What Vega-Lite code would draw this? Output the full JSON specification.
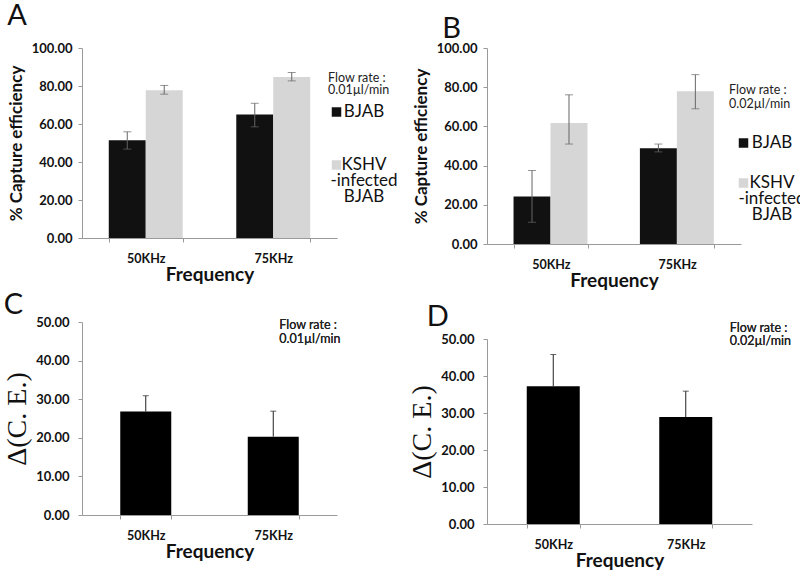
{
  "$schema": "https://vega.github.io/schema/vega-lite/v6.json",
  "background": "white",
  "padding": {"left": 3, "top": 2, "right": 0, "bottom": 0},
  "datasets": {
    "ce": [
      {"panel": "A", "freq": "50KHz", "cell": "BJAB", "mean": 51.5, "lo": 46.8, "hi": 55.9},
      {"panel": "A", "freq": "50KHz", "cell": "KSHV", "mean": 77.8, "lo": 75.7, "hi": 80.3},
      {"panel": "A", "freq": "75KHz", "cell": "BJAB", "mean": 65.0, "lo": 58.5, "hi": 70.9},
      {"panel": "A", "freq": "75KHz", "cell": "KSHV", "mean": 84.8, "lo": 82.7, "hi": 87.1},
      {"panel": "B", "freq": "50KHz", "cell": "BJAB", "mean": 24.2, "lo": 11.1, "hi": 37.5},
      {"panel": "B", "freq": "50KHz", "cell": "KSHV", "mean": 61.7, "lo": 51.0, "hi": 76.1},
      {"panel": "B", "freq": "75KHz", "cell": "BJAB", "mean": 48.9, "lo": 47.0, "hi": 51.0},
      {"panel": "B", "freq": "75KHz", "cell": "KSHV", "mean": 77.9, "lo": 69.0, "hi": 86.4}
    ],
    "delta": [
      {"panel": "C", "freq": "50KHz", "mean": 26.8, "hi": 30.9},
      {"panel": "C", "freq": "75KHz", "mean": 20.3, "hi": 26.9},
      {"panel": "D", "freq": "50KHz", "mean": 37.2, "hi": 45.8},
      {"panel": "D", "freq": "75KHz", "mean": 28.9, "hi": 35.9}
    ]
  },
  "config": {
    "font": "Lato",
    "view": {"stroke": null},
    "style": {"guide-label": {"lineHeight": 16}},
    "title": {"font": "Lato", "fontWeight": "normal", "fontSize": 29, "color": "#111", "anchor": "start"},
    "axisY": {
      "domainColor": "#9a9a9a", "tickColor": "#9a9a9a", "tickSize": 4, "grid": false, "labelOverlap": false,
      "labelFont": "Lato", "labelFontWeight": "bold", "labelFontSize": 13, "labelColor": "#111", "labelPadding": 6,
      "titleFont": "Lato", "titleFontWeight": "bold", "titleFontSize": 17, "titleColor": "#111", "titlePadding": 6,
      "format": ".2f"
    },
    "axisX": {
      "domainColor": "#9a9a9a", "tickColor": "#9a9a9a", "tickSize": 4, "tickBand": "extent", "labelAngle": 0,
      "labelFont": "Lato", "labelFontWeight": "bold", "labelFontSize": 12.5, "labelColor": "#111", "labelPadding": 10,
      "titleFont": "Lato", "titleFontWeight": "bold", "titleFontSize": 19, "titleColor": "#111", "titlePadding": 1
    },
    "legend": {
      "titleFont": "Lato", "titleFontWeight": "normal", "titleFontSize": 12.5, "titleColor": "#222",
      "labelFont": "Lato", "labelFontSize": 17, "labelColor": "#111", "labelLimit": 200, "labelAlign": "center",
      "symbolType": "square", "symbolSize": 90, "symbolStrokeWidth": 0, "labelBaseline": "middle"
    }
  },
  "resolve": {"scale": {"color": "independent"}, "legend": {"color": "independent"}},
  "hconcat": [
    {
      "align": "none",
      "vconcat": [
        {
          "width": 255, "height": 190,
          "title": {"text": "A", "offset": 11},
          "data": {"name": "ce"},
          "transform": [{"filter": "datum.panel === 'A'"}],
          "encoding": {
            "x": {"field": "freq", "type": "nominal", "title": "Frequency", "scale": {"paddingInner": 0.42, "paddingOuter": 0.21}}
          },
          "layer": [
            {
              "mark": {"type": "bar"},
              "encoding": {
                "xOffset": {"field": "cell", "scale": {"paddingInner": 0, "paddingOuter": 0}},
                "y": {"field": "mean", "type": "quantitative", "title": "% Capture efficiency", "scale": {"domain": [0, 100]}, "axis": {"values": [0, 20, 40, 60, 80, 100], "labelOverlap": false}},
                "color": {
                  "field": "cell", "type": "nominal",
                  "scale": {"domain": ["BJAB", "KSHV"], "range": ["#111111", "#d6d6d6"]},
                  "legend": {
                    "orient": "none", "legendX": 246, "legendY": 24,
                    "title": ["Flow rate :", "0.01µl/min"], "titleLineHeight": 12, "titlePadding": 7,
                    "rowPadding": 35, "labelOffset": 19,
                    "labelExpr": "datum.label === 'KSHV' ? ['KSHV', '-infected', 'BJAB'] : datum.label"
                  }
                }
              }
            },
            {
              "mark": {"type": "rule", "color": "#666", "strokeWidth": 1},
              "encoding": {
                "xOffset": {"field": "cell"},
                "y": {"field": "lo", "type": "quantitative", "title": "% Capture efficiency", "axis": {"values": [0, 20, 40, 60, 80, 100], "labelOverlap": false}},
                "y2": {"field": "hi"}
              }
            },
            {
              "mark": {"type": "tick", "color": "#666", "size": 8, "thickness": 1},
              "encoding": {"xOffset": {"field": "cell"}, "y": {"field": "lo", "type": "quantitative", "title": "% Capture efficiency", "axis": {"values": [0, 20, 40, 60, 80, 100], "labelOverlap": false}}}
            },
            {
              "mark": {"type": "tick", "color": "#666", "size": 8, "thickness": 1},
              "encoding": {"xOffset": {"field": "cell"}, "y": {"field": "hi", "type": "quantitative", "title": "% Capture efficiency", "axis": {"values": [0, 20, 40, 60, 80, 100], "labelOverlap": false}}}
            }
          ]
        },
        {
          "width": 255, "height": 193,
          "title": {"text": "C", "offset": -4},
          "data": {"name": "delta"},
          "transform": [{"filter": "datum.panel === 'C'"}],
          "encoding": {
            "x": {"field": "freq", "type": "nominal", "title": "Frequency", "scale": {"paddingInner": 0.6, "paddingOuter": 0.3}}
          },
          "layer": [
            {
              "mark": {"type": "bar", "color": "#000"},
              "encoding": {
                "y": {"field": "mean", "type": "quantitative", "title": "Δ(C. E.)", "scale": {"domain": [0, 50]},
                  "axis": {"values": [0, 10, 20, 30, 40, 50], "labelOverlap": false, "labelPadding": 9, "titleFont": "Liberation Serif", "titleFontWeight": "normal", "titleFontSize": 28, "titlePadding": 4}}
              }
            },
            {
              "mark": {"type": "rule", "color": "#222", "strokeWidth": 1},
              "encoding": {"y": {"field": "mean", "type": "quantitative", "title": "Δ(C. E.)",
                  "axis": {"values": [0, 10, 20, 30, 40, 50], "labelOverlap": false, "labelPadding": 9, "titleFont": "Liberation Serif", "titleFontWeight": "normal", "titleFontSize": 28, "titlePadding": 4}}, "y2": {"field": "hi"}}
            },
            {
              "mark": {"type": "tick", "color": "#222", "size": 6, "thickness": 1},
              "encoding": {"y": {"field": "hi", "type": "quantitative", "title": "Δ(C. E.)",
                  "axis": {"values": [0, 10, 20, 30, 40, 50], "labelOverlap": false, "labelPadding": 9, "titleFont": "Liberation Serif", "titleFontWeight": "normal", "titleFontSize": 28, "titlePadding": 4}}}
            },
            {
              "mark": {"type": "text", "align": "left", "baseline": "top", "font": "Lato", "fontSize": 12.5, "color": "#222", "dx": 6, "dy": -3, "lineHeight": 14},
              "encoding": {
                "x": {"datum": "75KHz"},
                "y": {"datum": 50, "type": "quantitative", "title": "Δ(C. E.)",
                  "axis": {"values": [0, 10, 20, 30, 40, 50], "labelOverlap": false, "labelPadding": 9, "titleFont": "Liberation Serif", "titleFontWeight": "normal", "titleFontSize": 28, "titlePadding": 4}},
                "text": {"value": ["Flow rate :", "0.01µl/min"]}
              }
            }
          ]
        }
      ],
      "spacing": 6
    },
    {
      "align": "none",
      "vconcat": [
        {
          "width": 254, "height": 196,
          "title": {"text": "B", "offset": -2, "dx": 30},
          "data": {"name": "ce"},
          "transform": [{"filter": "datum.panel === 'B'"}],
          "encoding": {
            "x": {"field": "freq", "type": "nominal", "title": "Frequency", "scale": {"paddingInner": 0.41, "paddingOuter": 0.21}}
          },
          "layer": [
            {
              "mark": {"type": "bar"},
              "encoding": {
                "xOffset": {"field": "cell", "scale": {"paddingInner": 0, "paddingOuter": 0}},
                "y": {"field": "mean", "type": "quantitative", "title": "% Capture efficiency", "scale": {"domain": [0, 100]}, "axis": {"values": [0, 20, 40, 60, 80, 100], "labelOverlap": false}},
                "color": {
                  "field": "cell", "type": "nominal",
                  "scale": {"domain": ["BJAB", "KSHV"], "range": ["#111111", "#d6d6d6"]},
                  "legend": {
                    "orient": "none", "legendX": 242, "legendY": 36,
                    "title": ["Flow rate :", "0.02µl/min"], "titleLineHeight": 14, "titlePadding": 24,
                    "rowPadding": 22, "labelOffset": 20, "symbolOffset": 6,
                    "labelExpr": "datum.label === 'KSHV' ? ['KSHV', '-infected', 'BJAB'] : datum.label"
                  }
                }
              }
            },
            {
              "mark": {"type": "rule", "color": "#666", "strokeWidth": 1},
              "encoding": {
                "xOffset": {"field": "cell"},
                "y": {"field": "lo", "type": "quantitative", "title": "% Capture efficiency", "axis": {"values": [0, 20, 40, 60, 80, 100], "labelOverlap": false}},
                "y2": {"field": "hi"}
              }
            },
            {
              "mark": {"type": "tick", "color": "#666", "size": 8, "thickness": 1},
              "encoding": {"xOffset": {"field": "cell"}, "y": {"field": "lo", "type": "quantitative", "title": "% Capture efficiency", "axis": {"values": [0, 20, 40, 60, 80, 100], "labelOverlap": false}}}
            },
            {
              "mark": {"type": "tick", "color": "#666", "size": 8, "thickness": 1},
              "encoding": {"xOffset": {"field": "cell"}, "y": {"field": "hi", "type": "quantitative", "title": "% Capture efficiency", "axis": {"values": [0, 20, 40, 60, 80, 100], "labelOverlap": false}}}
            }
          ]
        },
        {
          "width": 265, "height": 185,
          "title": {"text": "D", "offset": -10, "dx": 18},
          "data": {"name": "delta"},
          "transform": [{"filter": "datum.panel === 'D'"}],
          "encoding": {
            "x": {"field": "freq", "type": "nominal", "title": "Frequency", "scale": {"paddingInner": 0.6, "paddingOuter": 0.3}}
          },
          "layer": [
            {
              "mark": {"type": "bar", "color": "#000"},
              "encoding": {
                "y": {"field": "mean", "type": "quantitative", "title": "Δ(C. E.)", "scale": {"domain": [0, 50]},
                  "axis": {"values": [0, 10, 20, 30, 40, 50], "labelOverlap": false, "labelPadding": 9, "titleFont": "Liberation Serif", "titleFontWeight": "normal", "titleFontSize": 28, "titlePadding": 4}}
              }
            },
            {
              "mark": {"type": "rule", "color": "#222", "strokeWidth": 1},
              "encoding": {"y": {"field": "mean", "type": "quantitative", "title": "Δ(C. E.)",
                  "axis": {"values": [0, 10, 20, 30, 40, 50], "labelOverlap": false, "labelPadding": 9, "titleFont": "Liberation Serif", "titleFontWeight": "normal", "titleFontSize": 28, "titlePadding": 4}}, "y2": {"field": "hi"}}
            },
            {
              "mark": {"type": "tick", "color": "#222", "size": 6, "thickness": 1},
              "encoding": {"y": {"field": "hi", "type": "quantitative", "title": "Δ(C. E.)",
                  "axis": {"values": [0, 10, 20, 30, 40, 50], "labelOverlap": false, "labelPadding": 9, "titleFont": "Liberation Serif", "titleFontWeight": "normal", "titleFontSize": 28, "titlePadding": 4}}}
            },
            {
              "mark": {"type": "text", "align": "left", "baseline": "top", "font": "Lato", "fontSize": 12.5, "color": "#222", "dx": 44, "dy": -17, "lineHeight": 13},
              "encoding": {
                "x": {"datum": "75KHz"},
                "y": {"datum": 50, "type": "quantitative", "title": "Δ(C. E.)",
                  "axis": {"values": [0, 10, 20, 30, 40, 50], "labelOverlap": false, "labelPadding": 9, "titleFont": "Liberation Serif", "titleFontWeight": "normal", "titleFontSize": 28, "titlePadding": 4}},
                "text": {"value": ["Flow rate :", "0.02µl/min"]}
              }
            }
          ]
        }
      ],
      "spacing": 12
    }
  ],
  "spacing": 10
}
